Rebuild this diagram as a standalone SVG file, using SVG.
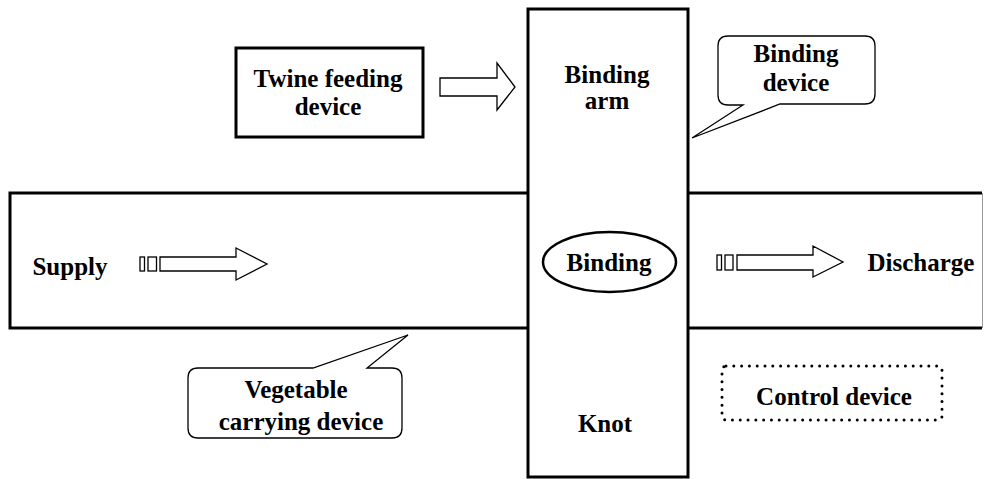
<svg xmlns="http://www.w3.org/2000/svg" width="984" height="479" viewBox="0 0 984 479">
  <style>
    .lbl { font-family: "Liberation Serif", "Times New Roman", serif; font-weight: bold; font-size: 25px; fill: #000; text-anchor: middle; }
    .thick { fill: #fff; stroke: #000; stroke-width: 3; }
    .thin { fill: #fff; stroke: #000; stroke-width: 1.3; stroke-linejoin: miter; }
    .dots { fill: none; stroke: #000; stroke-width: 3; stroke-linecap: round; stroke-dasharray: 0 7.8; }
  </style>
  <rect width="984" height="479" fill="#fff"/>

  <!-- conveyor band running left to right -->
  <g id="conveyor">
    <path d="M982,193 H10 V328 H982" fill="none" stroke="#000" stroke-width="3"/>
    <line x1="982.5" y1="193" x2="982.5" y2="328" stroke="#999" stroke-width="1"/>
    <text class="lbl" x="70" y="275">Supply</text>
    <text class="lbl" x="921" y="271">Discharge</text>
  </g>

  <!-- binding station crossing the band -->
  <g id="binding-station">
    <rect class="thick" x="528" y="9" width="160" height="468"/>
    <text class="lbl" x="607" y="83">Binding</text>
    <text class="lbl" x="607" y="109">arm</text>
    <text class="lbl" x="605" y="432">Knot</text>
  </g>

  <g id="binding">
    <ellipse cx="609.5" cy="262" rx="66.5" ry="30" fill="#fff" stroke="#000" stroke-width="2.5"/>
    <text class="lbl" x="609" y="271">Binding</text>
  </g>

  <g id="twine-feeding">
    <rect class="thick" x="236" y="48" width="187" height="89"/>
    <text class="lbl" x="328" y="87">Twine feeding</text>
    <text class="lbl" x="328" y="115">device</text>
  </g>

  <g id="binding-device">
    <path class="thin" d="M728,36 H865 Q875,36 875,46 V94 Q875,104 865,104 H780 L692,138 L743,105 H728 Q718,105 718,95 V46 Q718,36 728,36 Z"/>
    <text class="lbl" x="796" y="62">Binding</text>
    <text class="lbl" x="796" y="91">device</text>
  </g>

  <g id="vegetable-carrying">
    <path class="thin" d="M198,368 H313 L408,335 L367,368 H392 Q402,368 402,378 V428 Q402,438 392,438 H198 Q188,438 188,428 V378 Q188,368 198,368 Z"/>
    <text class="lbl" x="296" y="398">Vegetable</text>
    <text class="lbl" x="301" y="430">carrying device</text>
  </g>

  <g id="control-device">
    <rect class="dots" x="722" y="366" width="220" height="54" rx="4"/>
    <text class="lbl" x="834" y="405">Control device</text>
  </g>

  <!-- flow arrows -->
  <g id="connectors">
    <path class="thin" d="M440,78 H497 V63 L515,87 L497,110 V96 H440 Z"/>
    <g id="supply-flow">
      <rect class="thin" x="140" y="257" width="4.5" height="14"/>
      <rect class="thin" x="148" y="257" width="8.5" height="14"/>
      <path class="thin" d="M160,257 H236 V248 L267,264 L236,280 V271 H160 Z"/>
    </g>
    <g id="discharge-flow">
      <rect class="thin" x="717" y="255" width="4.5" height="15"/>
      <rect class="thin" x="725" y="255" width="8" height="15"/>
      <path class="thin" d="M737,255 H813 V246 L843,262 L813,277 V270 H737 Z"/>
    </g>
  </g>
</svg>
